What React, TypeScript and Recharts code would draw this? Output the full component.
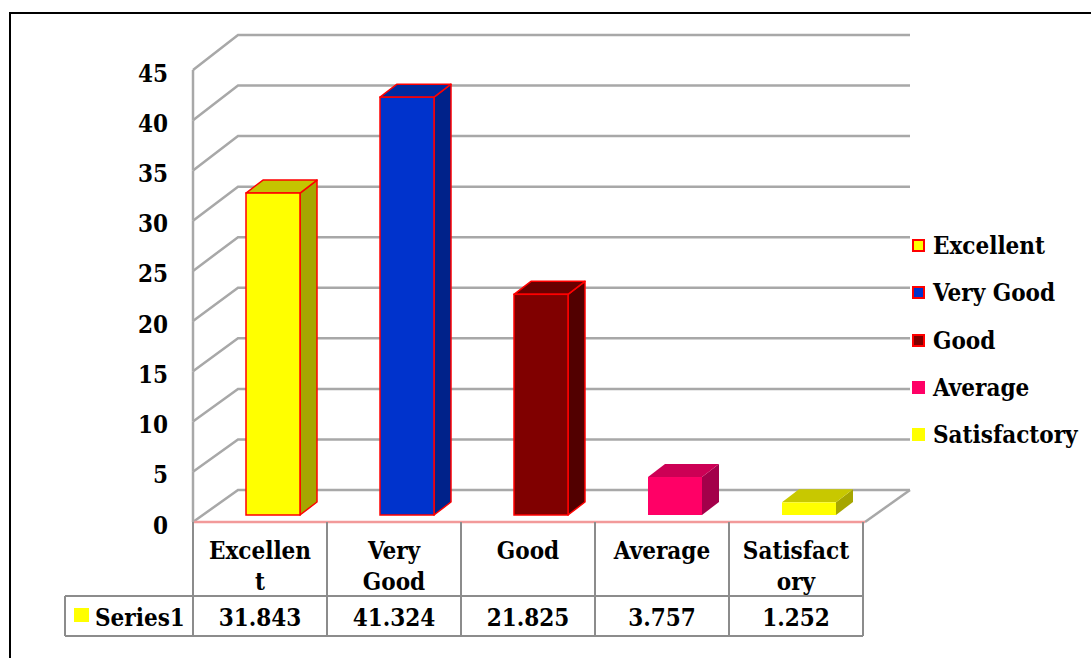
import { BarChart, Bar, XAxis, YAxis, CartesianGrid } from 'recharts'

// chart values
const categories = ['Excellent', 'Very Good', 'Good', 'Average', 'Satisfactory']
const values = [31.843, 41.324, 21.825, 3.757, 1.252]
const seriesName = 'Series1'
// wrapped labels as they appear in the data table
const tableLabels = [['Excellen', 't'], ['Very', 'Good'], ['Good'], ['Average'], ['Satisfact', 'ory']]
const valueLabels = ['31.843', '41.324', '21.825', '3.757', '1.252']
const yTicks = [0, 5, 10, 15, 20, 25, 30, 35, 40, 45]

// per-bar colours (front face, side face, top face, edge)
const frontColors = ['#ffff00', '#0033cc', '#800000', '#ff0066', '#ffff00']
const sideColors = ['#a6a600', '#00228a', '#520000', '#a3004a', '#a6a600']
const topColors = ['#c4c400', '#002a9e', '#690000', '#cc0055', '#c8c800']
const edgeColors = ['#ff0000', '#ff0000', '#ff0000', 'none', 'none']

// layout
const W = 1091
const H = 658
const FONT = "'DejaVu Serif Condensed', 'DejaVu Serif', serif"
const FONT_SIZE = 24
const TEXT_STYLE = { fontStretch: 'condensed' as const }
const GRID = '#a8a8a8'
const TABLE_LINE = '#8c8c8c'
const PLOT_BOTTOM = 515
const PLOT_H = 455
const FRONT_BOTTOM = 522
const FRONT_SCALE = 452 / 455
const BACK_DY = -25
const FRONT_DX = -13
const FRONT_LEFT = 193
const FRONT_RIGHT = 865
const BACK_LEFT = 238
const BACK_RIGHT = 910
const BAND = 134
const DEPTH_X = 17
const DEPTH_Y = 13
const ROW1 = 596
const ROW2 = 636
const SERIES_LEFT = 65

const data = categories.map((name, i) => ({ name, value: values[i] }))

// y of a tick on the front edge of the left wall
const frontY = (y: number) => FRONT_BOTTOM - (PLOT_BOTTOM - y) * FRONT_SCALE
const STEP = (PLOT_H / 9) * FRONT_SCALE

// 3d wall + floor lines, drawn per y tick
const gridLine = (props: any) => {
  const y = props.y1
  const yf = frontY(y)
  const yb = y + BACK_DY
  const isFloor = Math.abs(y - PLOT_BOTTOM) < 2
  return (
    <g key={`grid-${props.index}-${y}`}>
      {!isFloor && (
        <line x1={FRONT_LEFT} y1={yf} x2={FRONT_LEFT} y2={yf + STEP} stroke={GRID} strokeWidth={2.5} />
      )}
      <polyline
        points={`${FRONT_LEFT},${yf} ${BACK_LEFT},${yb} ${BACK_RIGHT},${yb}`}
        fill="none"
        stroke={GRID}
        strokeWidth={2.5}
      />
      {isFloor && (
        <>
          <line x1={FRONT_RIGHT} y1={yf} x2={BACK_RIGHT} y2={yb} stroke={GRID} strokeWidth={2.5} />
          <line x1={FRONT_LEFT} y1={yf} x2={FRONT_RIGHT} y2={yf} stroke="#f29a9a" strokeWidth={2.5} />
        </>
      )}
    </g>
  )
}

const YTick = ({ y, payload }: any) => (
  <text
    x={168}
    y={frontY(y) + 3}
    textAnchor="end"
    dominantBaseline="central"
    fontFamily={FONT}
    fontWeight="bold"
    fontSize={FONT_SIZE}
    fill="#000"
    style={TEXT_STYLE}
  >
    {payload.value}
  </text>
)

// each x tick draws its own column of the data table
const XTick = ({ x, index }: any) => {
  const cx = x + FRONT_DX
  const left = cx - BAND / 2
  const right = cx + BAND / 2
  const lines = tableLabels[index]
  const textProps = {
    textAnchor: 'middle' as const,
    dominantBaseline: 'central' as const,
    fontFamily: FONT,
    fontWeight: 'bold',
    fontSize: FONT_SIZE,
    fill: '#000',
    style: TEXT_STYLE,
  }
  return (
    <g>
      <line x1={left} y1={FRONT_BOTTOM} x2={left} y2={ROW2} stroke={TABLE_LINE} strokeWidth={2} />
      <line x1={right} y1={FRONT_BOTTOM} x2={right} y2={ROW2} stroke={TABLE_LINE} strokeWidth={2} />
      <line x1={left} y1={ROW1} x2={right} y2={ROW1} stroke={TABLE_LINE} strokeWidth={2} />
      <line x1={left} y1={ROW2} x2={right} y2={ROW2} stroke={TABLE_LINE} strokeWidth={2} />
      {lines.map((t, i) => (
        <text key={t} x={cx} y={550 + i * 31} {...textProps}>
          {t}
        </text>
      ))}
      <text x={cx} y={617} {...textProps}>
        {valueLabels[index]}
      </text>
      {index === 0 && (
        <>
          <line x1={SERIES_LEFT} y1={ROW1} x2={left} y2={ROW1} stroke={TABLE_LINE} strokeWidth={2} />
          <line x1={SERIES_LEFT} y1={ROW2} x2={left} y2={ROW2} stroke={TABLE_LINE} strokeWidth={2} />
          <line x1={SERIES_LEFT} y1={ROW1} x2={SERIES_LEFT} y2={ROW2} stroke={TABLE_LINE} strokeWidth={2} />
          <rect x={74} y={608} width={15} height={14} fill="#ffff00" />
          <text x={95} y={617} {...textProps} textAnchor="start">
            {seriesName}
          </text>
        </>
      )}
    </g>
  )
}

// 3d box for a bar
const Box = (props: any) => {
  const { x, y, width, height, index } = props
  const stroke = edgeColors[index]
  const sw = stroke === 'none' ? 0 : 1.5
  const top = `${x},${y} ${x + DEPTH_X},${y - DEPTH_Y} ${x + width + DEPTH_X},${y - DEPTH_Y} ${x + width},${y}`
  const side = `${x + width},${y} ${x + width + DEPTH_X},${y - DEPTH_Y} ${x + width + DEPTH_X},${y + height - DEPTH_Y} ${x + width},${y + height}`
  return (
    <g>
      <polygon points={side} fill={sideColors[index]} stroke={stroke} strokeWidth={sw} strokeLinejoin="round" />
      <polygon points={top} fill={topColors[index]} stroke={stroke} strokeWidth={sw} strokeLinejoin="round" />
      <rect x={x} y={y} width={width} height={height} fill={frontColors[index]} stroke={stroke} strokeWidth={sw} />
    </g>
  )
}

const legendSquare = (i: number) => ({
  width: 13,
  height: 13,
  flex: 'none',
  background: frontColors[i],
  boxSizing: 'border-box' as const,
  border: edgeColors[i] === 'none' ? 'none' : `2px solid ${edgeColors[i]}`,
  marginRight: 8,
})

export default function App() {
  return (
    <div style={{ position: 'absolute', left: 0, top: 0, width: W, height: H, background: '#fff', overflow: 'hidden' }}>
      <div
        style={{
          position: 'absolute',
          left: 9,
          top: 12,
          width: 1200,
          height: 800,
          borderTop: '2.5px solid #000',
          borderLeft: '2.5px solid #000',
        }}
      />
      <div style={{ position: 'absolute', left: 0, top: 0 }}>
        <BarChart width={W} height={H} data={data} margin={{ top: 60, right: 215, bottom: 103, left: 146 }}>
          <CartesianGrid vertical={false} horizontal={gridLine} stroke="none" />
          <YAxis
            domain={[0, 45]}
            ticks={yTicks}
            width={60}
            axisLine={false}
            tickLine={false}
            tick={<YTick />}
            interval={0}
          />
          <XAxis
            dataKey="name"
            height={40}
            axisLine={false}
            tickLine={false}
            interval={0}
            tick={<XTick />}
          />
          <Bar dataKey="value" barSize={54} shape={<Box />} isAnimationActive={false} />
        </BarChart>
      </div>
      <div
        style={{
          position: 'absolute',
          left: 912,
          top: 222,
          fontFamily: FONT,
          fontWeight: 'bold',
          fontSize: FONT_SIZE,
          fontStretch: 'condensed',
          whiteSpace: 'nowrap',
        }}
      >
        {categories.map((c) => (
          <div key={c} style={{ display: 'flex', alignItems: 'center', height: 47.3 }}>
            <div style={legendSquare(categories.indexOf(c))} />
            <span>{c}</span>
          </div>
        ))}
      </div>
    </div>
  )
}
